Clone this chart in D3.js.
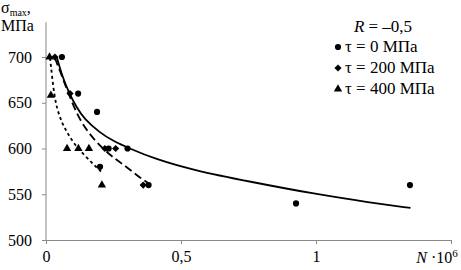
<!DOCTYPE html>
<html>
<head>
<meta charset="utf-8">
<script src="https://cdn.jsdelivr.net/npm/d3@7"></script>
<style>
  body { margin: 0; background: #fff; }
</style>
</head>
<body>
<div id="chart"></div>
<script>
// measured points, N in millions of cycles, sigma in MPa
var tau0Pts = [[0.059, 700], [0.119, 660], [0.189, 640], [0.2, 580], [0.232, 600], [0.302, 600], [0.38, 560], [0.926, 540], [1.348, 560]];
var tau200Pts = [[0.033, 700], [0.089, 660], [0.218, 600], [0.258, 600], [0.36, 560]];
var tau400Pts = [[0.013, 700], [0.018, 658], [0.078, 600], [0.12, 600], [0.159, 600], [0.207, 560]];

// trend curves
var tau0Curve = [[0.04, 700], [0.06, 679], [0.085, 661], [0.115, 644], [0.14, 633], [0.2, 617], [0.25, 608], [0.31, 600], [0.4, 589], [0.55, 576], [0.75, 564], [1.0, 550], [1.2, 541], [1.35, 535]];
var tau200Curve = [[0.033, 699], [0.059, 679], [0.081, 662], [0.115, 637], [0.148, 621], [0.189, 606], [0.241, 592], [0.274, 585], [0.311, 577], [0.348, 568], [0.385, 561]];
var tau400Curve = [[0.015, 699], [0.022, 680], [0.03, 660], [0.041, 643], [0.059, 628], [0.081, 616], [0.107, 604], [0.141, 593], [0.178, 582], [0.207, 574]];

var xTicks = [0, 0.5, 1, 1.5];
var xTickLabels = ["0", "0,5", "1", ""];
var yTicks = [500, 550, 600, 650, 700];

var legendItems = [
    {shape: "circle", label: "τ = 0 МПа"},
    {shape: "diamond", label: "τ = 200 МПа"},
    {shape: "triangle", label: "τ = 400 МПа"}];

var serif = "'Liberation Serif', 'DejaVu Serif', serif";

var svg = d3.select("#chart")
    .append("svg")
    .attr("width", 461)
    .attr("height", 270)
    .attr("font-family", serif);

var x = d3.scaleLinear().domain([0, 1.5]).range([46, 451]);
var y = d3.scaleLinear().domain([500, 700]).range([240, 57]);

// x axis
var xAxis = svg.append("g")
    .attr("transform", "translate(0,240)")
    .call(d3.axisBottom(x).tickValues(xTicks).tickSize(4)
        .tickFormat(function (d, i) { return xTickLabels[i]; }))
    .attr("font-family", null);
xAxis.select(".domain").attr("stroke", "#888");
xAxis.selectAll(".tick line").attr("stroke", "#888");
xAxis.selectAll(".tick text").attr("font-size", 16).attr("dy", "0.95em");

svg.append("text")
    .attr("x", 437)
    .attr("y", 263)
    .attr("text-anchor", "middle")
    .attr("font-size", 16)
    .html('<tspan font-style="italic">N</tspan> ·10<tspan dy="-6" font-size="11">6</tspan>');

// y axis
var yAxis = svg.append("g")
    .attr("transform", "translate(46,0)")
    .call(d3.axisLeft(y).tickValues(yTicks).tickSize(4))
    .attr("font-family", null);
yAxis.select(".domain").remove();
yAxis.selectAll(".tick line").attr("stroke", "#888");
yAxis.selectAll(".tick text").attr("font-size", 16).attr("x", -14);

svg.append("line")
    .attr("x1", 46).attr("x2", 46)
    .attr("y1", y(500)).attr("y2", y(738))
    .attr("stroke", "#888");

svg.append("text")
    .attr("x", 1).attr("y", 13)
    .attr("font-size", 16)
    .html('σ<tspan dy="3" font-size="10">max</tspan><tspan dy="-3">,</tspan>');
svg.append("text")
    .attr("x", 1).attr("y", 31)
    .attr("font-size", 16)
    .text("МПа");

// curves
var line = d3.line()
    .x(function (d) { return x(d[0]); })
    .y(function (d) { return y(d[1]); })
    .curve(d3.curveBasis);

svg.append("path").datum(tau0Curve)
    .attr("d", line).attr("fill", "none")
    .attr("stroke", "#000").attr("stroke-width", 1.8);
svg.append("path").datum(tau200Curve)
    .attr("d", line).attr("fill", "none")
    .attr("stroke", "#000").attr("stroke-width", 1.8)
    .attr("stroke-dasharray", "8,4");
svg.append("path").datum(tau400Curve)
    .attr("d", line).attr("fill", "none")
    .attr("stroke", "#000").attr("stroke-width", 1.8)
    .attr("stroke-dasharray", "3,3");

// markers
function markerPath(shape) {
    if (shape == "circle") return d3.symbol(d3.symbolCircle, 30)();
    if (shape == "diamond") return d3.symbol(d3.symbolSquare, 26)();
    return d3.symbol(d3.symbolTriangle, 30)();
}

function drawPts(data, shape) {
    svg.append("g").selectAll("path")
        .data(data)
        .join("path")
            .attr("d", markerPath(shape))
            .attr("transform", function (d) {
                return "translate(" + x(d[0]) + "," + y(d[1]) + ")" + (shape == "diamond" ? " rotate(45)" : "");
            })
            .attr("fill", "#000");
}
drawPts(tau0Pts, "circle");
drawPts(tau200Pts, "diamond");
drawPts(tau400Pts, "triangle");

// legend
svg.append("text")
    .attr("x", 383).attr("y", 32)
    .attr("text-anchor", "middle")
    .attr("font-size", 17)
    .html('<tspan font-style="italic">R</tspan> = –0,5');

var leg = svg.append("g").selectAll("g")
    .data(legendItems)
    .join("g")
        .attr("transform", function (d, i) { return "translate(338," + (47 + i * 21) + ")"; });
leg.append("path")
    .attr("d", function (d) { return markerPath(d.shape); })
    .attr("transform", function (d) { return d.shape == "diamond" ? "rotate(45)" : ""; })
    .attr("fill", "#000");
leg.append("text")
    .attr("x", 7).attr("y", 5)
    .attr("font-size", 17)
    .text(function (d) { return d.label; });

// make sure every label uses the serif face
svg.selectAll("text").style("font-family", serif).attr("fill", "#000");
</script>
</body>
</html>
